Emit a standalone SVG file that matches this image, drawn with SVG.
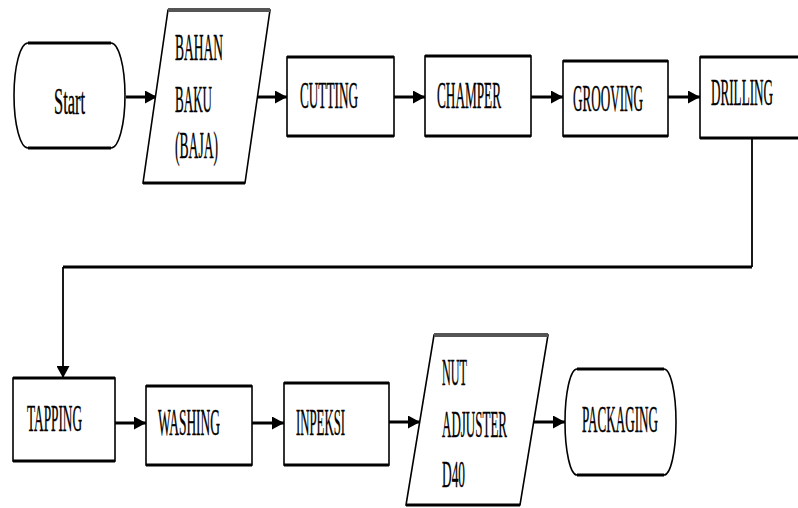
<svg xmlns="http://www.w3.org/2000/svg" width="798" height="508" viewBox="0 0 798 508">
<defs>
<marker id="ah" markerUnits="userSpaceOnUse" markerWidth="13" markerHeight="13" refX="12" refY="6.5" orient="auto"><path d="M0,0 L12,6.5 L0,13 Z" fill="#000"/></marker>
</defs>
<style>
.box{fill:#fff;stroke:#000;stroke-width:1.6}
.edge{fill:none;stroke:#000;stroke-width:3}
.gedge{fill:none;stroke:#555;stroke-width:4}
.t{font-family:"Liberation Serif","DejaVu Serif",serif;font-size:38px;fill:#000;stroke:#000;stroke-width:0.4}
.h{fill:none;stroke:#000;stroke-width:3}
.v{fill:none;stroke:#000;stroke-width:1.8}
</style>
<rect width="798" height="508" fill="#fff"/>
<g id="connectors">
<path class="h" d="M126,97 H157" marker-end="url(#ah)"/>
<path class="h" d="M257,97 H287" marker-end="url(#ah)"/>
<path class="h" d="M394,97 H425" marker-end="url(#ah)"/>
<path class="h" d="M531,97 H563" marker-end="url(#ah)"/>
<path class="h" d="M668,97 H700" marker-end="url(#ah)"/>
<path class="v" d="M752,138 V267"/>
<path class="h" d="M752,267 H63"/>
<path class="v" d="M63,267 V378" marker-end="url(#ah)"/>
<path class="h" d="M115,423 H146" marker-end="url(#ah)"/>
<path class="h" d="M252,423 H284" marker-end="url(#ah)"/>
<path class="h" d="M389,422 H420" marker-end="url(#ah)"/>
<path class="h" d="M534,422 H565" marker-end="url(#ah)"/>
</g>
<g id="start">
<path class="box" d="M28,43 H111 A14,52.5 0 0 1 111,148 H28 A14,52.5 0 0 1 28,43 Z"/>
<path class="edge" d="M28,43 H111 M28,148 H111"/>
<text class="t" x="54" y="114" textLength="31" lengthAdjust="spacingAndGlyphs">Start</text>
</g>
<g id="bahan-baku">
<polygon class="box" points="168,10 270,10 245,183 143,183"/>
<path class="gedge" d="M168,10 H270"/>
<path class="edge" d="M143,183 H245"/>
<text class="t" x="175" y="60" textLength="48" lengthAdjust="spacingAndGlyphs">BAHAN</text>
<text class="t" x="175" y="112" textLength="37" lengthAdjust="spacingAndGlyphs">BAKU</text>
<text class="t" x="175" y="158" textLength="43" lengthAdjust="spacingAndGlyphs">(BAJA)</text>
</g>
<g id="cutting">
<rect class="box" x="287" y="57" width="107" height="79"/>
<path class="edge" d="M287,57 H394 M287,136 H394"/>
<text class="t" x="300" y="108" textLength="58" lengthAdjust="spacingAndGlyphs">CUTTING</text>
</g>
<g id="champer">
<rect class="box" x="425" y="56" width="106" height="80"/>
<path class="edge" d="M425,56 H531 M425,136 H531"/>
<text class="t" x="437" y="108" textLength="64" lengthAdjust="spacingAndGlyphs">CHAMPER</text>
</g>
<g id="grooving">
<rect class="box" x="563" y="61" width="105" height="75"/>
<path class="edge" d="M563,61 H668 M563,136 H668"/>
<text class="t" x="573" y="111" textLength="70" lengthAdjust="spacingAndGlyphs">GROOVING</text>
</g>
<g id="drilling">
<rect class="box" x="700" y="57" width="110" height="81"/>
<path class="edge" d="M700,57 H810 M700,138 H810"/>
<text class="t" x="711" y="105" textLength="62" lengthAdjust="spacingAndGlyphs">DRILLING</text>
</g>
<g id="tapping">
<rect class="box" x="13" y="378" width="102" height="83"/>
<path class="edge" d="M13,378 H115 M13,461 H115"/>
<text class="t" x="27" y="431" textLength="55" lengthAdjust="spacingAndGlyphs">TAPPING</text>
</g>
<g id="washing">
<rect class="box" x="146" y="386" width="106" height="79"/>
<path class="edge" d="M146,386 H252 M146,465 H252"/>
<text class="t" x="158" y="435" textLength="62" lengthAdjust="spacingAndGlyphs">WASHING</text>
</g>
<g id="inpeksi">
<rect class="box" x="284" y="383" width="105" height="82"/>
<path class="edge" d="M284,383 H389 M284,465 H389"/>
<text class="t" x="296" y="435" textLength="49" lengthAdjust="spacingAndGlyphs">INPEKSI</text>
</g>
<g id="nut-adjuster">
<polygon class="box" points="434,335 548,335 520,505 406,505"/>
<path class="gedge" d="M434,335 H548"/>
<path class="edge" d="M406,505 H520"/>
<text class="t" x="442" y="385" textLength="25" lengthAdjust="spacingAndGlyphs">NUT</text>
<text class="t" x="442" y="437" textLength="65" lengthAdjust="spacingAndGlyphs">ADJUSTER</text>
<text class="t" x="442" y="487" textLength="23" lengthAdjust="spacingAndGlyphs">D40</text>
</g>
<g id="packaging">
<path class="box" d="M577,369 H664 A12,53 0 0 1 664,475 H577 A12,53 0 0 1 577,369 Z"/>
<path class="edge" d="M577,369 H664 M577,475 H664"/>
<text class="t" x="582" y="432" textLength="76" lengthAdjust="spacingAndGlyphs">PACKAGING</text>
</g>
</svg>
